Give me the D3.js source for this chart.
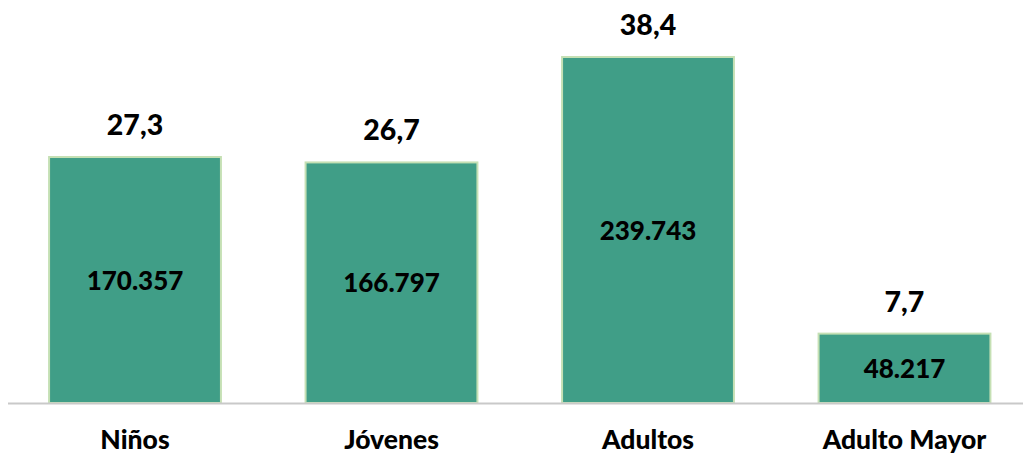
<!DOCTYPE html>
<html>
<head>
<meta charset="utf-8">
<script src="https://cdn.jsdelivr.net/npm/d3@7"></script>
<style>
  html, body { margin: 0; padding: 0; background: #fff; }
  svg { display: block; }
  text { font-family: Lato, "Open Sans", sans-serif; font-weight: 900; fill: #000; }
</style>
</head>
<body>
<svg id="chart" width="1023" height="456"></svg>
<script>
const categories = ["Niños", "Jóvenes", "Adultos", "Adulto Mayor"];
const percentages = [27.3, 26.7, 38.4, 7.7];
const counts = [170357, 166797, 239743, 48217];

const W = 1023, H = 456;
const baseline = 403;
const svg = d3.select("#chart");

const x = d3.scaleBand()
  .domain(categories)
  .range([6.75, 1032.75])
  .paddingInner(0.33)
  .paddingOuter(0.165);

const y = d3.scaleLinear()
  .domain([0, 38.4])
  .range([baseline, 57]);

const fmtPct = v => d3.format(".1f")(v).replace(".", ",");
const fmtCount = v => d3.format(",")(v).replace(/,/g, ".");

const data = categories.map((c, i) => ({ c, p: percentages[i], n: counts[i] }));

// bars
svg.selectAll("rect.bar")
  .data(data)
  .join("rect")
  .attr("class", "bar")
  .attr("x", d => x(d.c))
  .attr("y", d => y(d.p))
  .attr("width", x.bandwidth())
  .attr("height", d => baseline - y(d.p))
  .attr("fill", "#409E87")
  .attr("stroke", "#C5E0B4")
  .attr("stroke-width", 2);

// axis line
const axis = d3.axisBottom(x).tickSize(0).tickFormat("");
const gAxis = svg.append("g").attr("transform", `translate(0,${baseline})`).call(axis);
gAxis.select(".domain").remove();
svg.append("line")
  .attr("x1", 8).attr("x2", W)
  .attr("y1", baseline + 0.5).attr("y2", baseline + 0.5)
  .attr("stroke", "#c9c9c9")
  .attr("stroke-width", 2);

// top percentage labels
svg.selectAll("text.pct")
  .data(data)
  .join("text")
  .attr("class", "pct")
  .attr("x", d => x(d.c) + x.bandwidth() / 2)
  .attr("y", d => y(d.p) - 22)
  .attr("text-anchor", "middle")
  .attr("font-size", 28.5)
  .text(d => fmtPct(d.p));

// inner count labels
svg.selectAll("text.cnt")
  .data(data)
  .join("text")
  .attr("class", "cnt")
  .attr("x", d => x(d.c) + x.bandwidth() / 2)
  .attr("y", d => (y(d.p) + baseline) / 2 + 9.5)
  .attr("text-anchor", "middle")
  .attr("font-size", 26)
  .text(d => fmtCount(d.n));

// category labels
svg.selectAll("text.cat")
  .data(data)
  .join("text")
  .attr("class", "cat")
  .attr("x", d => x(d.c) + x.bandwidth() / 2)
  .attr("y", 449)
  .attr("text-anchor", "middle")
  .attr("font-size", 26.5)
  .text(d => d.c);
</script>
</body>
</html>
